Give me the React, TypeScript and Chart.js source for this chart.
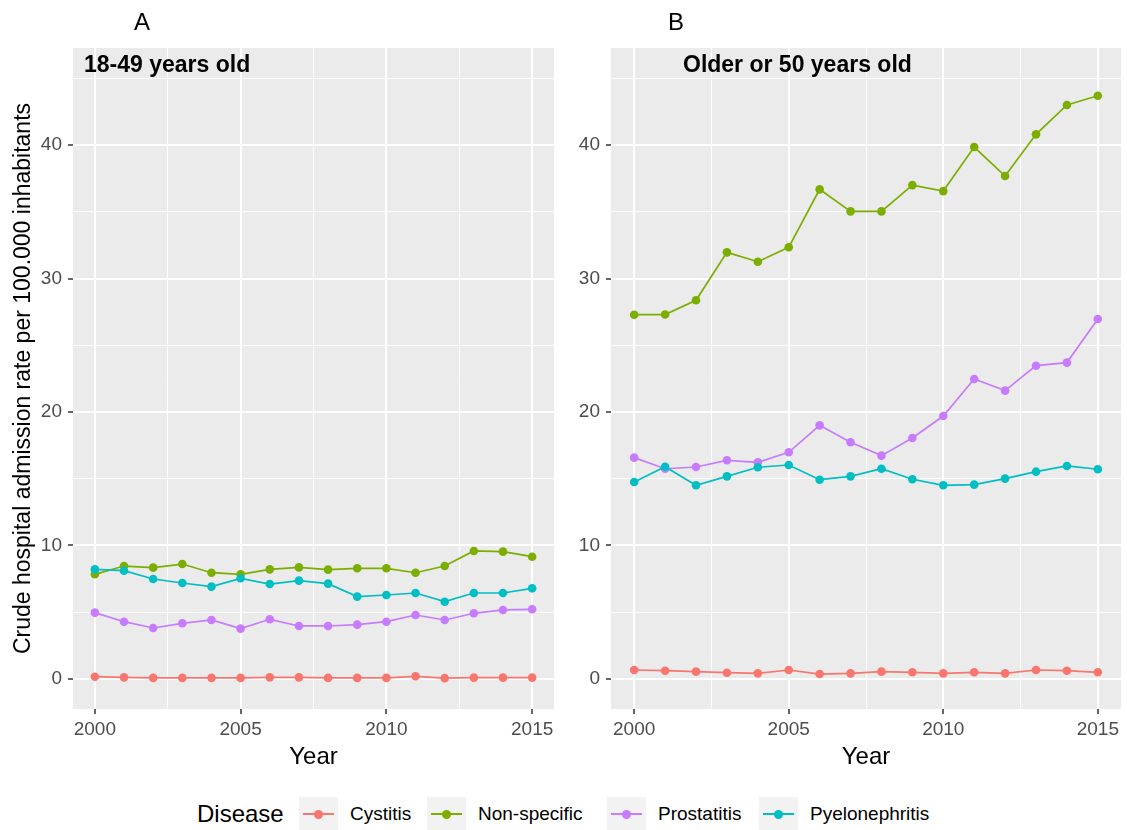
import React, { useEffect, useRef } from 'react';
import { Chart, registerables } from 'chart.js';

Chart.register(...registerables);

const FONT = "'Liberation Sans', Arial, Helvetica, sans-serif";

const years = [2000, 2001, 2002, 2003, 2004, 2005, 2006, 2007, 2008, 2009, 2010, 2011, 2012, 2013, 2014, 2015];
const diseases = ['Cystitis', 'Non-specific', 'Prostatitis', 'Pyelonephritis'];
const colors = ['#F8766D', '#7CAE00', '#C77CFF', '#00BFC4'];

// Panel A: 18-49 years old
const cystitisYoung = [0.17, 0.12, 0.08, 0.08, 0.08, 0.08, 0.12, 0.12, 0.08, 0.08, 0.08, 0.2, 0.06, 0.1, 0.1, 0.1];
const nonSpecificYoung = [7.84, 8.46, 8.34, 8.61, 7.96, 7.84, 8.21, 8.36, 8.19, 8.29, 8.29, 7.96, 8.46, 9.59, 9.54, 9.16];
const prostatitisYoung = [4.97, 4.29, 3.82, 4.17, 4.42, 3.77, 4.47, 3.97, 3.97, 4.07, 4.29, 4.79, 4.42, 4.92, 5.17, 5.22];
const pyeloYoung = [8.21, 8.11, 7.49, 7.19, 6.92, 7.54, 7.11, 7.37, 7.14, 6.17, 6.29, 6.44, 5.79, 6.44, 6.44, 6.79];

// Panel B: older or 50 years old
const cystitisOld = [0.67, 0.62, 0.55, 0.47, 0.42, 0.67, 0.37, 0.42, 0.55, 0.5, 0.42, 0.5, 0.42, 0.67, 0.62, 0.5];
const nonSpecificOld = [27.29, 27.3, 28.37, 31.96, 31.26, 32.34, 36.68, 35.03, 35.03, 37.0, 36.55, 39.85, 37.68, 40.8, 43.0, 43.69];
const prostatitisOld = [16.58, 15.75, 15.88, 16.38, 16.23, 16.98, 19.0, 17.73, 16.73, 18.05, 19.7, 22.47, 21.6, 23.47, 23.7, 26.97];
const pyeloOld = [14.76, 15.9, 14.51, 15.18, 15.86, 16.03, 14.93, 15.18, 15.75, 14.96, 14.51, 14.56, 15.01, 15.53, 15.96, 15.71];

const xMajorTicks = [2000, 2005, 2010, 2015];
const xMinorTicks = [2002.5, 2007.5, 2012.5];
const yMajorTicks = [0, 10, 20, 30, 40];
const yMinorTicks = [5, 15, 25, 35, 45];

const yTitle = 'Crude hospital admission rate per 100.000 inhabitants';
const xTitle = 'Year';
const legendTitle = 'Disease';

const panelTextPlugin = {
  id: 'panelText',
  beforeDraw(chart: any) {
    const { ctx, chartArea } = chart;
    ctx.save();
    ctx.fillStyle = '#EBEBEB';
    ctx.fillRect(chartArea.left, chartArea.top, chartArea.right - chartArea.left, chartArea.bottom - chartArea.top);
    ctx.restore();
  },
  afterDatasetsDraw(chart: any, _args: any, opts: any) {
    const { ctx } = chart;
    ctx.save();
    ctx.fillStyle = '#000000';
    ctx.textBaseline = 'alphabetic';
    ctx.textAlign = 'center';
    ctx.font = `24px ${FONT}`;
    ctx.fillText(opts.letter, opts.letterX, 30);
    ctx.textAlign = 'left';
    ctx.font = `bold 23px ${FONT}`;
    ctx.fillText(opts.sub, opts.subX, 72);
    ctx.restore();
  },
};

function makeDatasets(series: number[][]) {
  return series.map((vals, i) => ({
    label: diseases[i],
    data: years.map((yr, j) => ({ x: yr, y: vals[j] })),
    borderColor: colors[i],
    backgroundColor: colors[i],
    borderWidth: 1.7,
    pointRadius: 4.3,
    pointHoverRadius: 4.3,
    pointBorderWidth: 0,
    tension: 0,
    order: series.length - i,
  }));
}

function makeOptions(cfg: {
  yWidth: number;
  padRight: number;
  showYTitle: boolean;
  letter: string;
  letterX: number;
  sub: string;
  subX: number;
}) {
  const isXMajor = (v: number) => xMajorTicks.includes(v);
  const isYMajor = (v: number) => yMajorTicks.includes(v);
  return {
    animation: false,
    responsive: false,
    maintainAspectRatio: false,
    layout: { padding: { top: 48, right: cfg.padRight, left: 0, bottom: 0 } },
    scales: {
      x: {
        type: 'linear',
        min: 1999.25,
        max: 2015.75,
        afterBuildTicks: (s: any) => {
          s.ticks = [...xMajorTicks, ...xMinorTicks].sort((a, b) => a - b).map((v) => ({ value: v }));
        },
        afterFit: (s: any) => {
          s.height = 81;
        },
        border: { display: false },
        grid: {
          color: '#FFFFFF',
          lineWidth: (c: any) => (c.tick && isXMajor(c.tick.value) ? 2 : 1),
          drawTicks: true,
          tickLength: 5,
          tickWidth: 1.5,
          tickColor: (c: any) => (c.tick && isXMajor(c.tick.value) ? '#333333' : 'rgba(0,0,0,0)'),
        },
        ticks: {
          autoSkip: false,
          maxRotation: 0,
          padding: 4,
          color: '#4D4D4D',
          font: { size: 19, family: FONT },
          callback: (v: any) => (isXMajor(Number(v)) ? String(v) : ''),
        },
        title: {
          display: true,
          text: xTitle,
          color: '#000000',
          font: { size: 24, family: FONT, lineHeight: 1.2 },
          padding: { top: 0, bottom: 18.6 },
        },
      },
      y: {
        type: 'linear',
        min: -2.25,
        max: 47.27,
        afterBuildTicks: (s: any) => {
          s.ticks = [...yMajorTicks, ...yMinorTicks].sort((a, b) => a - b).map((v) => ({ value: v }));
        },
        afterFit: (s: any) => {
          s.width = cfg.yWidth;
        },
        border: { display: false },
        grid: {
          color: '#FFFFFF',
          lineWidth: (c: any) => (c.tick && isYMajor(c.tick.value) ? 2 : 1),
          drawTicks: true,
          tickLength: 5,
          tickWidth: 1.5,
          tickColor: (c: any) => (c.tick && isYMajor(c.tick.value) ? '#333333' : 'rgba(0,0,0,0)'),
        },
        ticks: {
          autoSkip: false,
          padding: 6,
          color: '#4D4D4D',
          font: { size: 19, family: FONT },
          callback: (v: any) => (isYMajor(Number(v)) ? String(v) : ''),
        },
        title: {
          display: cfg.showYTitle,
          text: yTitle,
          color: '#000000',
          font: { size: 23, family: FONT, lineHeight: 1.2 },
          padding: { top: 10, bottom: 0 },
        },
      },
    },
    plugins: {
      legend: { display: false },
      tooltip: { enabled: false },
      panelText: { letter: cfg.letter, letterX: cfg.letterX, sub: cfg.sub, subX: cfg.subX },
    },
  } as any;
}

function Panel(props: {
  left: number;
  width: number;
  series: number[][];
  cfg: Parameters<typeof makeOptions>[0];
}) {
  const ref = useRef<HTMLCanvasElement | null>(null);
  useEffect(() => {
    if (!ref.current) return;
    const chart = new Chart(ref.current, {
      type: 'line',
      data: { datasets: makeDatasets(props.series) as any },
      options: makeOptions(props.cfg),
      plugins: [panelTextPlugin],
    } as any);
    return () => chart.destroy();
  }, []);
  return (
    <canvas
      ref={ref}
      width={props.width}
      height={790}
      style={{ position: 'absolute', left: props.left, top: 0, width: props.width, height: 790, display: 'block' }}
    />
  );
}

const legendLayout = [299, 427, 607, 759];

function Legend() {
  return (
    <div style={{ position: 'absolute', left: 0, top: 797, width: 1127, height: 34, fontFamily: FONT }}>
      <div style={{ position: 'absolute', left: 197, top: 0, height: 34, lineHeight: '34px', fontSize: 24, color: '#000' }}>
        {legendTitle}
      </div>
      {diseases.map((d, i) => (
        <div key={d} style={{ position: 'absolute', left: legendLayout[i], top: 0, height: 34, display: 'flex', alignItems: 'center' }}>
          <div style={{ position: 'relative', width: 39, height: 34, background: '#F2F2F2' }}>
            <div style={{ position: 'absolute', left: 4, right: 4, top: 16, height: 1.7, background: colors[i] }} />
            <div style={{ position: 'absolute', left: 15, top: 12.5, width: 9, height: 9, borderRadius: '50%', background: colors[i] }} />
          </div>
          <span style={{ marginLeft: 12, fontSize: 19, color: '#000', whiteSpace: 'nowrap' }}>{d}</span>
        </div>
      ))}
    </div>
  );
}

export default function App() {
  return (
    <div style={{ position: 'absolute', left: 0, top: 0, width: 1127, height: 830, background: '#FFFFFF', overflow: 'hidden' }}>
      <Panel
        left={0}
        width={570}
        series={[cystitisYoung, nonSpecificYoung, prostatitisYoung, pyeloYoung]}
        cfg={{ yWidth: 73, padRight: 16, showYTitle: true, letter: 'A', letterX: 142, sub: '18-49 years old', subX: 84 }}
      />
      <Panel
        left={570}
        width={557}
        series={[cystitisOld, nonSpecificOld, prostatitisOld, pyeloOld]}
        cfg={{ yWidth: 41, padRight: 6, showYTitle: false, letter: 'B', letterX: 106, sub: 'Older or 50 years old', subX: 113 }}
      />
      <Legend />
    </div>
  );
}
